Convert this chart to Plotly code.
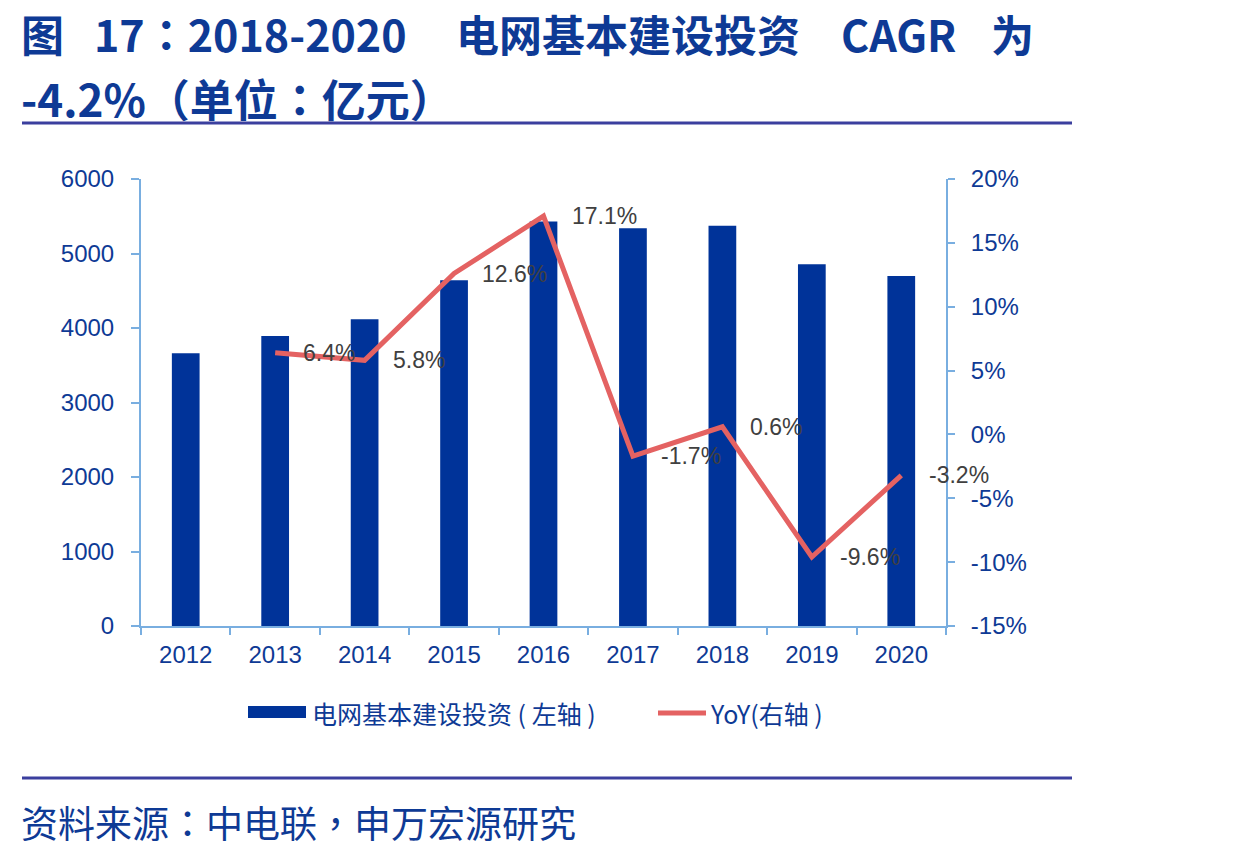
import plotly.graph_objects as go

years = ["2012", "2013", "2014", "2015", "2016", "2017", "2018", "2019", "2020"]
invest = [3661, 3894, 4119, 4640, 5431, 5339, 5373, 4856, 4699]
yoy_years = ["2013", "2014", "2015", "2016", "2017", "2018", "2019", "2020"]
yoy = [6.4, 5.8, 12.6, 17.1, -1.7, 0.6, -9.6, -3.2]
yoy_labels = ["6.4%", "5.8%", "12.6%", "17.1%", "-1.7%", "0.6%", "-9.6%", "-3.2%"]
left_ticks = [0, 1000, 2000, 3000, 4000, 5000, 6000]
right_ticks = [-15, -10, -5, 0, 5, 10, 15, 20]
right_tick_text = ["-15%", "-10%", "-5%", "0%", "5%", "10%", "15%", "20%"]

W, H = 1239, 853
L, R, T, B = 141, 946, 179, 626

def px(x):
    return (x - L) / (R - L)

def py(y):
    return (B - y) / (B - T)

BLUE = "#003399"
TXT = "#0E3A95"
RED = "#E46262"
AX = "#79AEE0"
font_lat = "Liberation Sans, Arial, sans-serif"
font_cjk = "Noto Sans CJK TC, Noto Sans CJK SC, sans-serif"

fig = go.Figure()
fig.add_trace(go.Bar(x=years, y=invest, marker=dict(color=BLUE, line=dict(width=0)),
                     width=0.31, showlegend=False))
fig.add_trace(go.Scatter(x=yoy_years, y=yoy, yaxis="y2", mode="lines",
                         line=dict(color=RED, width=5), showlegend=False))

annotations = []
for xv, yv, t in zip(yoy_years, yoy, yoy_labels):
    annotations.append(dict(x=years.index(xv), y=yv, xref="x", yref="y2", text=t, showarrow=False,
                            xanchor="left", yanchor="middle", xshift=26, yshift=0,
                            font=dict(family=font_lat, size=23, color="#404040")))

def txt(x, y, s, size, bold=False):
    return dict(x=px(x), y=py(y), xref="paper", yref="paper", xanchor="left", yanchor="middle",
                text=("<b>%s</b>" % s) if bold else s, showarrow=False, borderpad=0,
                font=dict(family=font_cjk, size=size, color=TXT))

# title, line 1 (segments placed as in the original layout)
annotations.append(txt(20, 33, "图", 43, True))
annotations.append(txt(93, 33, "17：2018-2020", 43, True))
annotations.append(txt(455, 33, "电网基本建设投资", 43, True))
annotations.append(txt(840, 33, "CAGR", 43, True))
annotations.append(txt(990, 33, "为", 43, True))
# title, line 2
annotations.append(txt(20, 98, "-4.2%（单位：亿元）", 44, True))
# footer
annotations.append(txt(20, 822, "资料来源：中电联，申万宏源研究", 37))
# legend texts
annotations.append(txt(311, 713, "电网基本建设投资 ( 左轴 )", 25))
annotations.append(txt(709, 713, "YoY(右轴 )", 25))

shapes = [
    dict(type="line", xref="paper", yref="paper", x0=px(22), x1=px(1072), y0=py(123), y1=py(123),
         line=dict(color="#3B3F9E", width=3)),
    dict(type="line", xref="paper", yref="paper", x0=px(22), x1=px(1072), y0=py(778), y1=py(778),
         line=dict(color="#3B3F9E", width=3)),
    dict(type="rect", xref="paper", yref="paper", x0=px(248), x1=px(306), y0=py(718), y1=py(706),
         fillcolor=BLUE, line=dict(width=0)),
    dict(type="line", xref="paper", yref="paper", x0=px(658), x1=px(706), y0=py(713), y1=py(713),
         line=dict(color=RED, width=5)),
]

fig.update_layout(
    width=W, height=H,
    margin=dict(l=L, r=W - R, t=T, b=H - B),
    paper_bgcolor="white", plot_bgcolor="white",
    showlegend=False,
    xaxis=dict(type="category", showgrid=False, showline=True, linecolor=AX, linewidth=2,
               ticks="outside", tickson="boundaries", ticklen=7, tickcolor=AX, tickwidth=2,
               ticklabelstandoff=6,
               tickfont=dict(family=font_lat, size=24, color=TXT), range=[-0.5, 8.5]),
    yaxis=dict(range=[0, 6000], tickvals=left_ticks, showgrid=False, zeroline=False,
               showline=True, linecolor=AX, linewidth=2, ticks="outside", ticklen=8,
               tickcolor=AX, tickwidth=2, ticklabelstandoff=12,
               tickfont=dict(family=font_lat, size=24, color=TXT)),
    yaxis2=dict(range=[-15, 20], tickvals=right_ticks, ticktext=right_tick_text, overlaying="y",
                side="right", showgrid=False, zeroline=False, showline=True, linecolor=AX,
                linewidth=2, ticks="outside", ticklen=7, tickcolor=AX, tickwidth=2,
                ticklabelstandoff=11,
                tickfont=dict(family=font_lat, size=24, color=TXT)),
    annotations=annotations,
    shapes=shapes,
)

fig.write_html("out.html")
